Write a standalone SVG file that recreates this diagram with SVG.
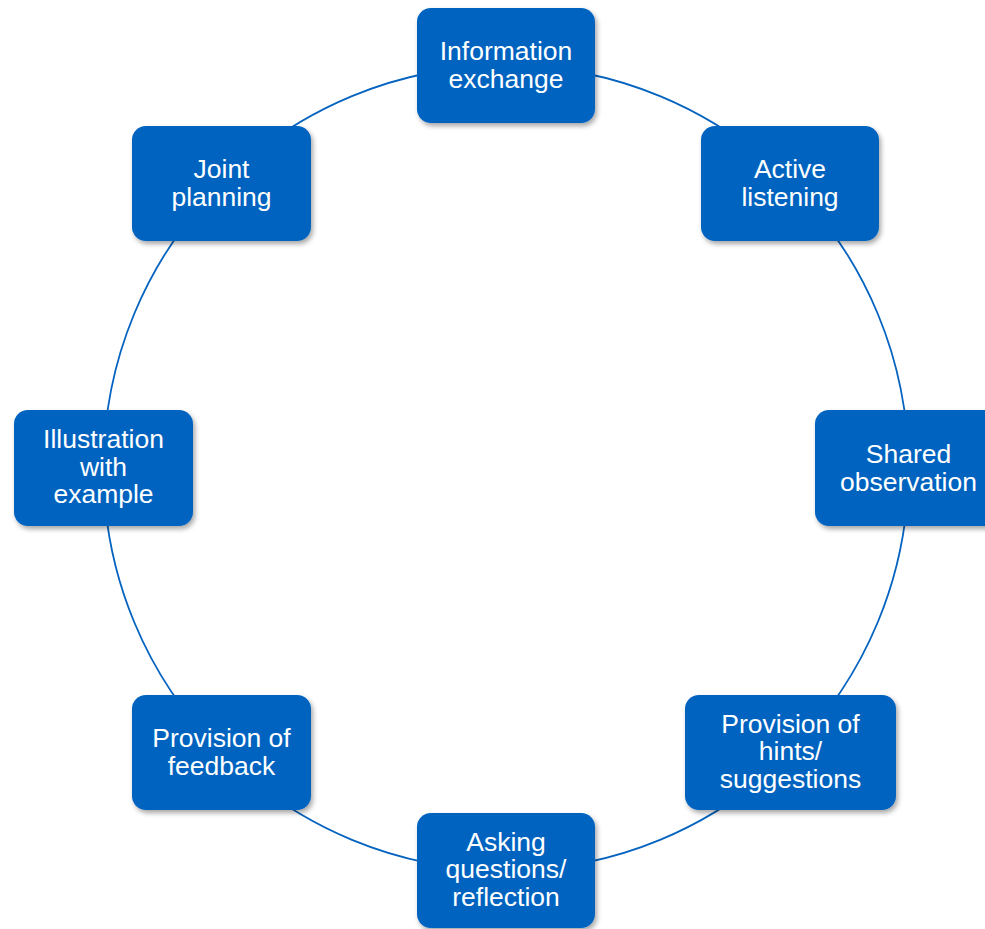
<svg xmlns="http://www.w3.org/2000/svg" width="985" height="929" viewBox="0 0 985 929">
<defs>
<filter id="sh" x="-10%" y="-10%" width="125%" height="130%">
<feDropShadow dx="2" dy="3" stdDeviation="2.5" flood-color="#000" flood-opacity="0.35"/>
</filter>
<style>
.box{fill:#0563C0;filter:url(#sh);}
.lbl{fill:#fff;font-family:"Liberation Sans",Arial,sans-serif;font-size:26.5px;text-anchor:middle;}
.arc{fill:none;stroke:#0563C0;stroke-width:1.8;}
</style>
</defs>
<rect width="985" height="929" fill="#fff"/>
<g id="connectors">
<path class="arc" d="M506 65.5 A402.5 402.5 0 0 1 790.6 183.4"/>
<path class="arc" d="M790.6 183.4 A402.5 402.5 0 0 1 908.5 468"/>
<path class="arc" d="M908.5 468 A402.5 402.5 0 0 1 790.6 752.6"/>
<path class="arc" d="M790.6 752.6 A402.5 402.5 0 0 1 506 870.5"/>
<path class="arc" d="M506 870.5 A402.5 402.5 0 0 1 221.4 752.6"/>
<path class="arc" d="M221.4 752.6 A402.5 402.5 0 0 1 103.5 468"/>
<path class="arc" d="M103.5 468 A402.5 402.5 0 0 1 221.4 183.4"/>
<path class="arc" d="M221.4 183.4 A402.5 402.5 0 0 1 506 65.5"/>
</g>
<g id="n-information-exchange">
<rect class="box" x="417" y="8" width="178" height="115" rx="14"/>
<text class="lbl" x="506" y="60">Information</text>
<text class="lbl" x="506" y="88">exchange</text>
</g>
<g id="n-active-listening">
<rect class="box" x="701" y="126" width="178" height="115" rx="14"/>
<text class="lbl" x="790" y="178">Active</text>
<text class="lbl" x="790" y="206">listening</text>
</g>
<g id="n-shared-observation">
<rect class="box" x="815" y="410" width="187" height="116" rx="14"/>
<text class="lbl" x="908.5" y="462.5">Shared</text>
<text class="lbl" x="908.5" y="490.5">observation</text>
</g>
<g id="n-hints">
<rect class="box" x="685" y="695" width="211" height="115" rx="14"/>
<text class="lbl" x="790.5" y="732.5">Provision of</text>
<text class="lbl" x="790.5" y="760">hints/</text>
<text class="lbl" x="790.5" y="787.5">suggestions</text>
</g>
<g id="n-asking-questions">
<rect class="box" x="417" y="813" width="178" height="115" rx="14"/>
<text class="lbl" x="506" y="850.5">Asking</text>
<text class="lbl" x="506" y="878">questions/</text>
<text class="lbl" x="506" y="905.5">reflection</text>
</g>
<g id="n-feedback">
<rect class="box" x="132" y="695" width="179" height="115" rx="14"/>
<text class="lbl" x="221.5" y="747">Provision of</text>
<text class="lbl" x="221.5" y="775">feedback</text>
</g>
<g id="n-illustration">
<rect class="box" x="14" y="410" width="179" height="116" rx="14"/>
<text class="lbl" x="103.5" y="448">Illustration</text>
<text class="lbl" x="103.5" y="475.5">with</text>
<text class="lbl" x="103.5" y="503">example</text>
</g>
<g id="n-joint-planning">
<rect class="box" x="132" y="126" width="179" height="115" rx="14"/>
<text class="lbl" x="221.5" y="178">Joint</text>
<text class="lbl" x="221.5" y="206">planning</text>
</g>
</svg>
